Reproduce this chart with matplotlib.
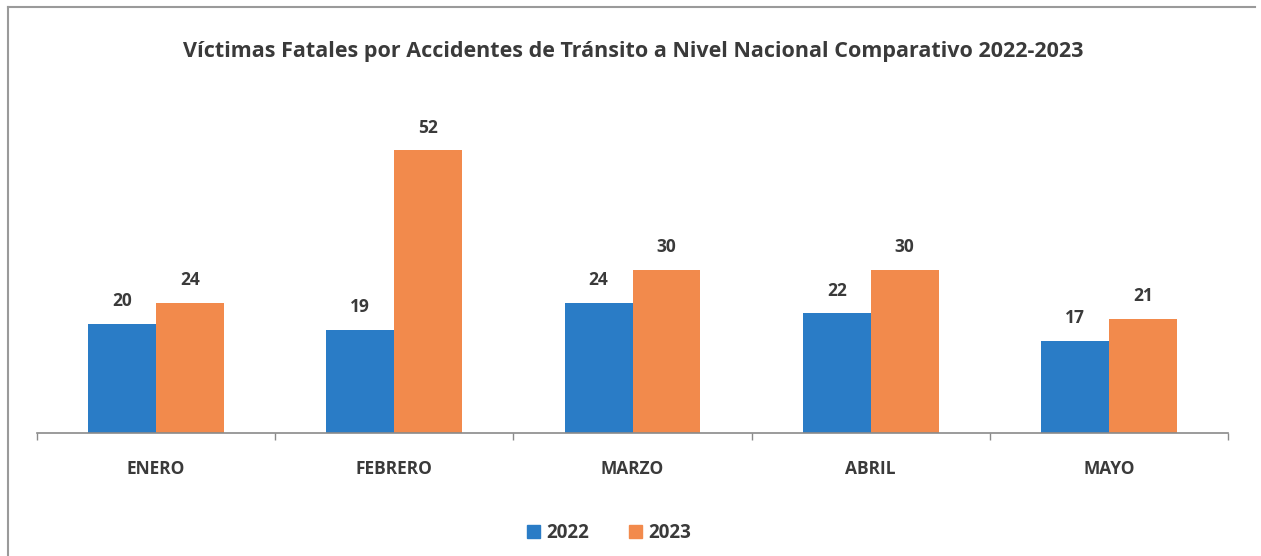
import matplotlib
matplotlib.use("Agg")
import matplotlib.pyplot as plt
from matplotlib.lines import Line2D
from matplotlib.patches import Patch
import numpy as np

categories = ["ENERO", "FEBRERO", "MARZO", "ABRIL", "MAYO"]
series_names = ["2022", "2023"]
values_2022 = [20, 19, 24, 22, 17]
values_2023 = [24, 52, 30, 30, 21]
title = "Víctimas Fatales por Accidentes de Tránsito a Nivel Nacional Comparativo 2022-2023"

plt.rcParams['font.family'] = ['Open Sans', 'DejaVu Sans']
c_blue = "#2A7CC6"
c_orange = "#F28A4C"
txt = "#3A3A3A"

W, H = 1261, 556
fig = plt.figure(figsize=(W / 100, H / 100), dpi=100)

# outer chart border (left and top visible in scan)
fig.add_artist(Line2D([8 / W, 8 / W], [0, 1 - 7 / H], color="#9a9a9a", lw=1.5))
fig.add_artist(Line2D([8 / W, 1255 / W], [1 - 7 / H, 1 - 7 / H], color="#9a9a9a", lw=1.5))

ax = fig.add_axes([37 / W, 1 - 433 / H, (1228 - 37) / W, (433 - 107) / H])
x = np.arange(len(categories))
bw = 0.285
b1 = ax.bar(x - bw / 2, values_2022, bw, color=c_blue, label=series_names[0])
b2 = ax.bar(x + bw / 2, values_2023, bw, color=c_orange, label=series_names[1])
for bars in (b1, b2):
    for r in bars:
        ax.annotate(f"{int(r.get_height())}", (r.get_x() + r.get_width() / 2, r.get_height()),
                    xytext=(0, 10), textcoords="offset points", ha="center", va="bottom",
                    fontsize=12.5, fontweight="bold", color=txt)

ax.set_xlim(-0.5, len(categories) - 0.5)
ax.set_ylim(0, 60)
ax.set_yticks([])
for s in ("top", "right", "left"):
    ax.spines[s].set_visible(False)
ax.spines["bottom"].set_color("#8a8a8a")
ax.spines["bottom"].set_linewidth(1.2)
ax.set_xticks(np.arange(-0.5, len(categories), 1.0), minor=False)
ax.set_xticklabels([])
ax.tick_params(axis="x", length=5, color="#8a8a8a", width=1)
for i, c in enumerate(categories):
    ax.text(i, -0.11, c, transform=ax.get_xaxis_transform(), ha="center", va="center",
            fontsize=12.5, fontweight="bold", color=txt)

fig.text(633 / W, 1 - 52 / H, title, ha="center", va="center", fontsize=15.5,
         fontweight="bold", color=txt)

handles = [Patch(color=c_blue), Patch(color=c_orange)]
fig.legend(handles, series_names, loc="center", bbox_to_anchor=(609 / W, 1 - 533 / H),
           ncol=2, frameon=False, handlelength=0.7, handleheight=0.7,
           handletextpad=0.35, columnspacing=2.1, prop={"weight": "bold", "size": 13.5})
for t in fig.legends[0].get_texts():
    t.set_color(txt)

fig.savefig("out.png", dpi=100)
